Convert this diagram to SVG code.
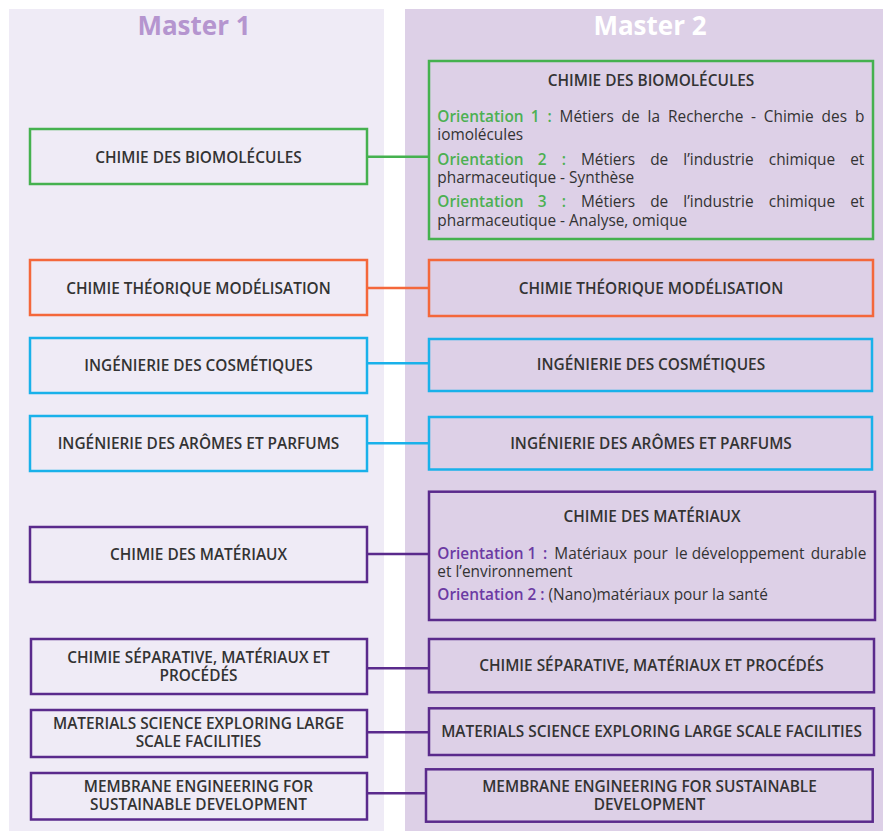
<svg xmlns="http://www.w3.org/2000/svg" width="883" height="831" viewBox="0 0 883 831">
<style>
.bg{fill:#ffffff}
.p1{fill:#efebf6}
.p2{fill:#ddd0e7}
.box{stroke-width:2.5}
.b1{fill:#efebf6}
.b2{fill:#ddd0e7}
.g{stroke:#45b14f}
.o{stroke:#f4673b}
.c{stroke:#19b1ea}
.v{stroke:#5a2a8c}
.t{font-family:"Open Sans","Noto Sans","DejaVu Sans",sans-serif;font-size:15.4px;font-weight:600;fill:#333333;text-anchor:middle}
.b{font-family:"Open Sans","Noto Sans","DejaVu Sans",sans-serif;font-size:15.4px;font-weight:400;fill:#333333}
.e{text-anchor:end}
.og{fill:#4cb052;font-weight:600}
.ov{fill:#6b3aa3;font-weight:600}
.h{font-family:"Open Sans","Noto Sans","DejaVu Sans",sans-serif;font-size:26px;font-weight:700;text-anchor:middle}
.conn line{stroke-width:2.5}
</style>
<rect class="bg" x="0" y="0" width="883" height="831"/>
<rect class="p1" x="9" y="9" width="375" height="822"/>
<rect class="p2" x="405" y="9" width="478" height="822"/>
<text class="h" x="194" y="35" fill="#b595cf">Master 1</text>
<text class="h" x="650" y="35" fill="#ffffff">Master 2</text>

<g id="connectors" class="conn">
<line class="g" x1="367" y1="156.7" x2="429" y2="156.7"/>
<line class="o" x1="367" y1="288" x2="429" y2="288"/>
<line class="c" x1="367" y1="363.3" x2="429" y2="363.3"/>
<line class="c" x1="367" y1="443.3" x2="429" y2="443.3"/>
<line class="v" x1="367" y1="554" x2="429" y2="554"/>
<line class="v" x1="367" y1="668.3" x2="429" y2="668.3"/>
<line class="v" x1="367" y1="732.3" x2="429" y2="732.3"/>
<line class="v" x1="367" y1="793.3" x2="426" y2="793.3"/>
</g>

<g id="m1-biomolecules">
<rect class="box b1 g" x="30" y="129" width="337" height="55"/>
<text class="t" x="198.5" y="162.5">CHIMIE DES BIOMOLÉCULES</text>
</g>
<g id="m1-theorique">
<rect class="box b1 o" x="30" y="260" width="337" height="55"/>
<text class="t" x="198.5" y="293.5">CHIMIE THÉORIQUE MODÉLISATION</text>
</g>
<g id="m1-cosmetiques">
<rect class="box b1 c" x="30" y="338" width="337" height="55"/>
<text class="t" x="198.5" y="371">INGÉNIERIE DES COSMÉTIQUES</text>
</g>
<g id="m1-aromes">
<rect class="box b1 c" x="30" y="416" width="337" height="55"/>
<text class="t" x="198.5" y="448.5">INGÉNIERIE DES ARÔMES ET PARFUMS</text>
</g>
<g id="m1-materiaux">
<rect class="box b1 v" x="30" y="527" width="337" height="55"/>
<text class="t" x="198.5" y="560">CHIMIE DES MATÉRIAUX</text>
</g>
<g id="m1-separative">
<rect class="box b1 v" x="31" y="639" width="336" height="55"/>
<text class="t" x="198.5" y="663.3">CHIMIE SÉPARATIVE, MATÉRIAUX ET</text>
<text class="t" x="198.5" y="680.8">PROCÉDÉS</text>
</g>
<g id="m1-materials-science">
<rect class="box b1 v" x="31" y="710" width="336" height="47"/>
<text class="t" x="198.5" y="729">MATERIALS SCIENCE EXPLORING LARGE</text>
<text class="t" x="198.5" y="747">SCALE FACILITIES</text>
</g>
<g id="m1-membrane">
<rect class="box b1 v" x="31" y="773" width="336" height="46.5"/>
<text class="t" x="198.5" y="791.5">MEMBRANE ENGINEERING FOR</text>
<text class="t" x="198.5" y="809.5">SUSTAINABLE DEVELOPMENT</text>
</g>

<g id="m2-biomolecules">
<rect class="box b2 g" x="429" y="61" width="444" height="178"/>
<text class="t" x="651" y="85.7">CHIMIE DES BIOMOLÉCULES</text>
<text class="b" y="122"><tspan class="og" x="437.3">Orientation</tspan><tspan class="og" x="530.7">1</tspan><tspan class="og" x="547.4">:</tspan><tspan x="559.6">Métiers</tspan><tspan x="621.6">de</tspan><tspan x="647.6">la</tspan><tspan x="668">Recherche</tspan><tspan x="750.9">-</tspan><tspan x="763.8">Chimie</tspan><tspan x="821.6">des</tspan></text>
<text class="b e" x="864.3" y="122">b</text>
<text class="b" x="437.3" y="140.3">iomolécules</text>
<text class="b" y="165"><tspan class="og" x="437.3">Orientation</tspan><tspan class="og" x="537.8">2</tspan><tspan class="og" x="561.7">:</tspan><tspan x="581">Métiers</tspan><tspan x="650.2">de</tspan><tspan x="683.3">l’industrie</tspan><tspan x="768.8">chimique</tspan></text>
<text class="b e" x="864.3" y="165">et</text>
<text class="b" x="437.3" y="183.3">pharmaceutique - Synthèse</text>
<text class="b" y="207.3"><tspan class="og" x="437.3">Orientation</tspan><tspan class="og" x="537.8">3</tspan><tspan class="og" x="561.7">:</tspan><tspan x="581">Métiers</tspan><tspan x="650.2">de</tspan><tspan x="683.3">l’industrie</tspan><tspan x="768.8">chimique</tspan></text>
<text class="b e" x="864.3" y="207.3">et</text>
<text class="b" x="437.3" y="226">pharmaceutique - Analyse, omique</text>
</g>
<g id="m2-theorique">
<rect class="box b2 o" x="429" y="260" width="444" height="56"/>
<text class="t" x="651" y="294">CHIMIE THÉORIQUE MODÉLISATION</text>
</g>
<g id="m2-cosmetiques">
<rect class="box b2 c" x="429" y="339" width="443" height="52"/>
<text class="t" x="651" y="370">INGÉNIERIE DES COSMÉTIQUES</text>
</g>
<g id="m2-aromes">
<rect class="box b2 c" x="429" y="417" width="443" height="52.5"/>
<text class="t" x="651" y="449">INGÉNIERIE DES ARÔMES ET PARFUMS</text>
</g>
<g id="m2-materiaux">
<rect class="box b2 v" x="429" y="491.7" width="446" height="128.3"/>
<text class="t" x="652" y="521.7">CHIMIE DES MATÉRIAUX</text>
<text class="b" y="559"><tspan class="ov" x="437.3">Orientation</tspan><tspan class="ov" x="527.5">1</tspan><tspan class="ov" x="543">:</tspan><tspan x="554.3">Matériaux</tspan><tspan x="633.3">pour</tspan><tspan x="675">le</tspan><tspan x="691.7">développement</tspan></text>
<text class="b e" x="866.3" y="559">durable</text>
<text class="b" x="437.3" y="577">et l’environnement</text>
<text class="b" x="437.3" y="600"><tspan class="ov">Orientation 2 :</tspan> (Nano)matériaux pour la santé</text>
</g>
<g id="m2-separative">
<rect class="box b2 v" x="429" y="639" width="445" height="53.3"/>
<text class="t" x="651.5" y="670.5">CHIMIE SÉPARATIVE, MATÉRIAUX ET PROCÉDÉS</text>
</g>
<g id="m2-materials-science">
<rect class="box b2 v" x="429" y="708.3" width="445" height="46.7"/>
<text class="t" x="651.5" y="737">MATERIALS SCIENCE EXPLORING LARGE SCALE FACILITIES</text>
</g>
<g id="m2-membrane">
<rect class="box b2 v" x="426" y="769.3" width="446.7" height="52.4"/>
<text class="t" x="649.5" y="792">MEMBRANE ENGINEERING FOR SUSTAINABLE</text>
<text class="t" x="649.5" y="810">DEVELOPMENT</text>
</g>
</svg>
